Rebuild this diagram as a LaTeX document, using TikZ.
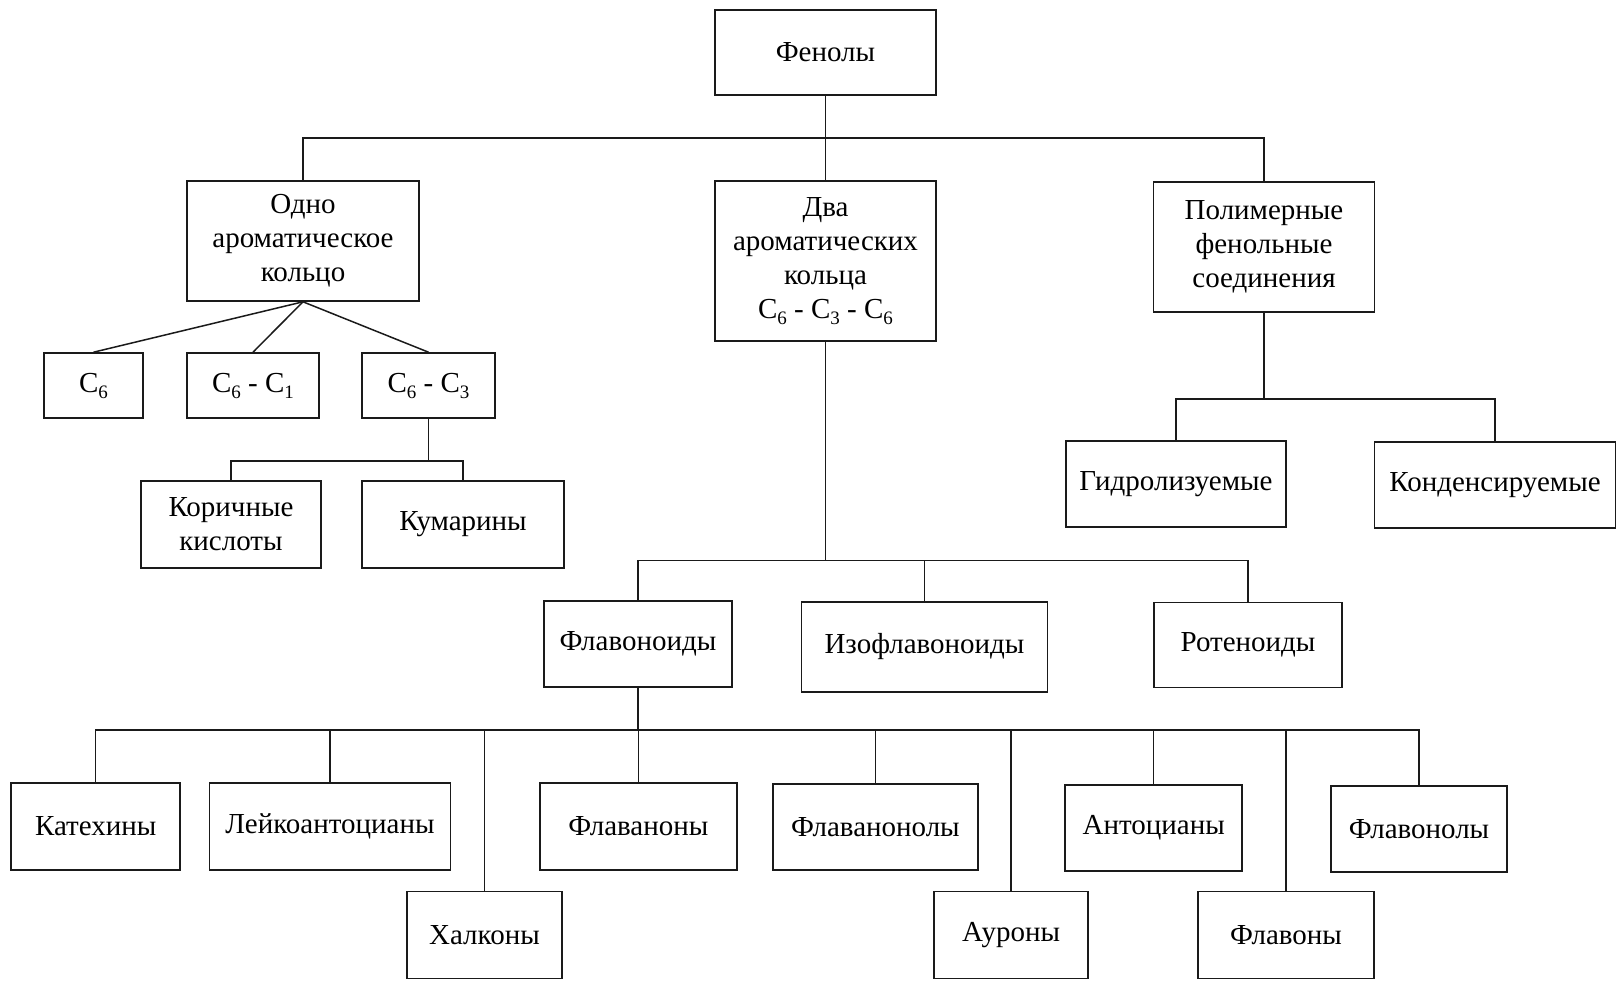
\documentclass[tikz,border=0pt]{standalone}
\usepackage{fontspec}
\setmainfont{Liberation Serif}
\usetikzlibrary{positioning}
\definecolor{linestroke}{HTML}{1A1A1A}
\newcommand{\csub}[1]{C\raisebox{-0.45ex}{\fontsize{19}{19}\selectfont #1}}

\begin{document}
\begin{tikzpicture}[
    x=1pt, y=-1pt,
    font=\fontsize{29}{34}\selectfont,
    box/.style={rectangle, draw=linestroke, fill=white, text=black, align=center, line width=1.6pt, inner sep=2pt},
    link/.style={draw=linestroke, line width=1.5pt}
]
    \useasboundingbox (0,0) rectangle (1622,983);

    % Root
    \node[box, minimum width=221, minimum height=85] (phenols) at (825.5,52.5) {Фенолы};

    % Level 1
    \node[box, minimum width=232, minimum height=120] (one_ring) at (303,241) {Одно\\ароматическое\\кольцо};
    \node[box, minimum width=221, minimum height=160] (two_rings) at (825.5,261) {Два\\ароматических\\кольца\\\csub{6} - \csub{3} - \csub{6}};
    \node[box, minimum width=221, minimum height=130] (polymers) at (1264,247) {Полимерные\\фенольные\\соединения};

    % One ring
    \node[box, minimum width=99, minimum height=65] (c_six) at (93.5,385.5) {\csub{6}};
    \node[box, minimum width=132, minimum height=65] (c_six_one) at (253,385.5) {\csub{6} - \csub{1}};
    \node[box, minimum width=133, minimum height=65] (c_six_three) at (428.5,385.5) {\csub{6} - \csub{3}};
    \node[box, minimum width=180, minimum height=87] (cinnamic) at (231,524.5) {Коричные\\кислоты};
    \node[box, minimum width=202, minimum height=87] (coumarins) at (463,524.5) {Кумарины};

    % Polymers
    \node[box, minimum width=220, minimum height=86] (hydrolysable) at (1176,484) {Гидролизуемые};
    \node[box, minimum width=241, minimum height=86] (condensed) at (1495,485) {Конденсируемые};

    % Two rings
    \node[box, minimum width=188, minimum height=86] (flavonoids) at (638,643.7) {Флавоноиды};
    \node[box, minimum width=246, minimum height=90] (isoflavonoids) at (924.5,647) {Изофлавоноиды};
    \node[box, minimum width=188, minimum height=85] (rotenoids) at (1248,645) {Ротеноиды};

    % Flavonoid classes, upper row
    \node[box, minimum width=169, minimum height=87] (catechins) at (95.7,826.4) {Катехины};
    \node[box, minimum width=241, minimum height=87] (leuco) at (330,826.4) {Лейкоантоцианы};
    \node[box, minimum width=197, minimum height=87] (flavanones) at (638.3,826.4) {Флаваноны};
    \node[box, minimum width=205, minimum height=86] (flavanonols) at (875.4,827) {Флаванонолы};
    \node[box, minimum width=177, minimum height=86] (anthocyanins) at (1153.7,828) {Антоцианы};
    \node[box, minimum width=176, minimum height=86] (flavonols) at (1419,828.7) {Флавонолы};

    % Flavonoid classes, lower row
    \node[box, minimum width=155, minimum height=87] (chalcones) at (484.5,935) {Халконы};
    \node[box, minimum width=154, minimum height=87] (aurones) at (1011,935) {Ауроны};
    \node[box, minimum width=176, minimum height=87] (flavones) at (1286,935) {Флавоны};

    % Bus junctions
    \coordinate (top_bus) at (825.5,138);
    \coordinate (c3_bus) at (428.5,461);
    \coordinate (poly_bus) at (1264,399);
    \coordinate (two_bus) at (825.5,560.5);
    \coordinate (flav_bus) at (638,730);

    % Connectors
    \draw[link] (phenols) -- (two_rings);
    \draw[link] (one_ring.north) |- (top_bus) -| (polymers.north);

    \draw[link] (one_ring.south) -- (c_six.north);
    \draw[link] (one_ring.south) -- (c_six_one.north);
    \draw[link] (one_ring.south) -- (c_six_three.north);

    \draw[link] (c_six_three.south) -- (c3_bus);
    \draw[link] (cinnamic.north) |- (c3_bus) -| (coumarins.north);

    \draw[link] (polymers.south) -- (poly_bus);
    \draw[link] (hydrolysable.north) |- (poly_bus) -| (condensed.north);

    \draw[link] (two_rings.south) -- (two_bus);
    \draw[link] (flavonoids.north) |- (two_bus) -| (rotenoids.north);
    \draw[link] (isoflavonoids.north) -- (isoflavonoids.north |- two_bus);

    \draw[link] (flavonoids.south) -- (flav_bus);
    \draw[link] (catechins.north) |- (flav_bus) -| (flavonols.north);
    \foreach \kid in {leuco, chalcones, flavanones, flavanonols, aurones, anthocyanins, flavones}
        \draw[link] (\kid.north) -- (\kid.north |- flav_bus);

\end{tikzpicture}
\end{document}
